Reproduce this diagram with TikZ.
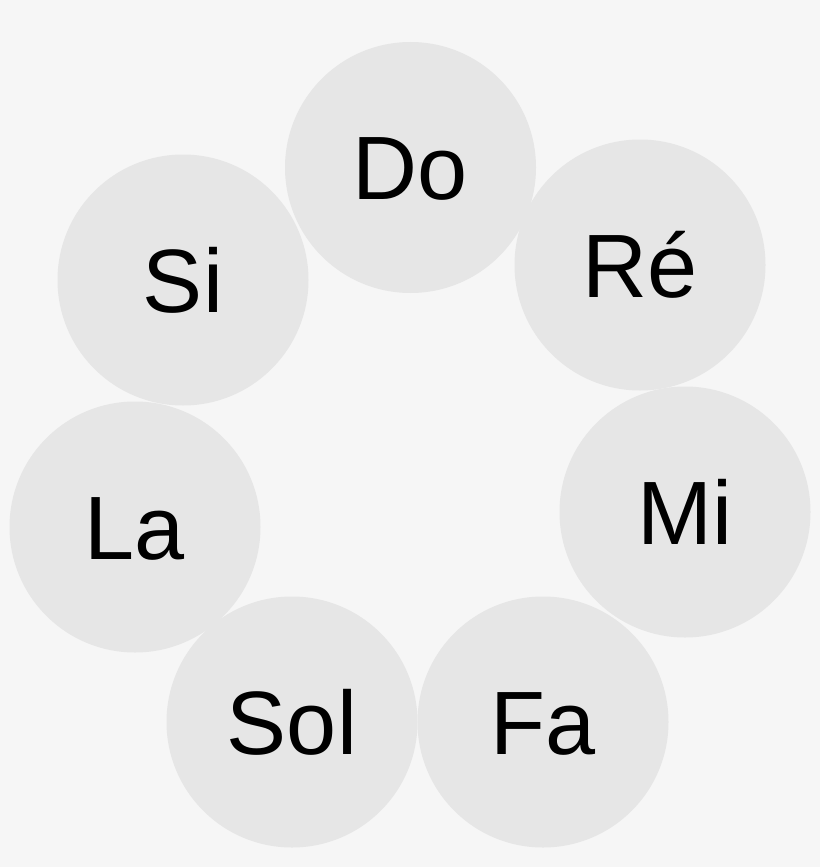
\documentclass[tikz,border=0pt]{standalone}
\usepackage{fontspec}
\setmainfont{Liberation Sans}
\definecolor{bgc}{HTML}{F6F6F6}
\definecolor{circc}{HTML}{E6E6E6}
\begin{document}
\begin{tikzpicture}[x=1pt,y=-1pt,
  note/.style={circle,fill=circc,draw=none,minimum size=251pt,inner sep=0pt,
    font=\fontsize{90}{90}\selectfont,text height=64.4pt,text depth=0pt}]
\fill[bgc] (0,0) rectangle (820,867);
\useasboundingbox (0,0) rectangle (820,867);
\node[note] (do)  at (410.5,167.5) {Do};
\node[note] (re)  at (640,265) {Ré};
\node[note] (mi)  at (685,512) {Mi};
\node[note] (fa)  at (543,722) {Fa};
\node[note] (sol) at (292,722) {Sol};
\node[note] (la)  at (135,527) {La};
\node[note] (si)  at (183,280) {Si};
\end{tikzpicture}
\end{document}
